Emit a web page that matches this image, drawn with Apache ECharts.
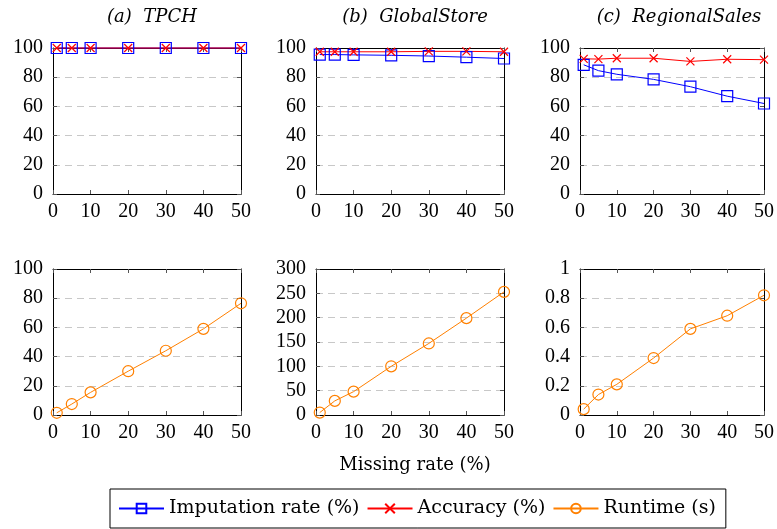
<!DOCTYPE html>
<html>
<head>
<meta charset="utf-8">
<script src="https://cdn.jsdelivr.net/npm/echarts@6/dist/echarts.min.js"></script>
<style>html,body{margin:0;padding:0;background:#fff}#c{width:777px;height:529px}</style>
</head>
<body>
<div id="c"></div>
<script>
const missingRates = [1, 5, 10, 20, 30, 40, 50];
const xTicks = [0, 10, 20, 30, 40, 50];
const panelTitles = ['(a)  TPCH', '(b)  GlobalStore', '(c)  RegionalSales'];
const seriesNames = ['Imputation rate (%)', 'Accuracy (%)', 'Runtime (s)'];

const tpchImputation = [100, 100, 100, 100, 100, 100, 100];
const tpchAccuracy = [100, 100, 100, 100, 100, 100, 100];
const tpchRuntime = [1.5, 7.5, 15.5, 30, 44, 59, 76.5];

const globalImputation = [95.5, 95.5, 95.3, 95, 94.5, 93.7, 92.8];
const globalAccuracy = [97.4, 97.4, 97.4, 97.4, 97.7, 97.7, 97.4];
const globalRuntime = [5, 29, 48, 100, 147, 199, 253];

const regionalImputation = [88.5, 84.5, 82, 78.5, 73.5, 67, 62];
const regionalAccuracy = [92.6, 92.4, 93, 93, 90.8, 92.3, 92];
const regionalRuntime = [0.04, 0.14, 0.21, 0.39, 0.59, 0.68, 0.82];

const runtimeAxes = [
  { max: 100, interval: 20 },
  { max: 300, interval: 50 },
  { max: 1, interval: 0.2 }
];

const BLUE = '#0000ff', RED = '#ff0000', ORANGE = '#ff8000';
const FONT = '"Liberation Serif", "DejaVu Serif", serif';
const WFONT = '"DejaVu Serif", "Liberation Serif", serif';

const colLeft = [53, 316, 580];
const plotW = 188;
const rowTop = [48, 269];
const plotH = 146;

const chart = echarts.init(document.getElementById('c'));

const grids = [], xAxes = [], yAxes = [], series = [];
const tickStyle = { show: true, inside: true, length: 4, lineStyle: { color: '#555', width: 1 } };
const lineAxis = { show: true, onZero: false, lineStyle: { color: '#000', width: 1 } };
const labelStyle = { color: '#000', fontFamily: FONT, fontSize: 20 };

function addGrid(left, top, yMax, yInterval) {
  const gi = grids.length;
  grids.push({ left: left, top: top, width: plotW, height: plotH });
  xAxes.push({ type: 'value', gridIndex: gi, position: 'bottom', min: 0, max: 50, interval: 10,
    axisLine: lineAxis, axisTick: tickStyle, splitLine: { show: false },
    axisLabel: Object.assign({ margin: 8, showMaxLabel: true, showMinLabel: true }, labelStyle) });
  xAxes.push({ type: 'value', gridIndex: gi, position: 'top', min: 0, max: 50, interval: 10,
    axisLine: lineAxis, axisTick: tickStyle, splitLine: { show: false }, axisLabel: { show: false } });
  yAxes.push({ type: 'value', gridIndex: gi, position: 'left', min: 0, max: yMax, interval: yInterval,
    axisLine: lineAxis, axisTick: tickStyle,
    splitLine: { show: true, lineStyle: { color: '#c8c8c8', width: 1, type: [7, 5] } },
    axisLabel: Object.assign({ margin: 10 }, labelStyle) });
  yAxes.push({ type: 'value', gridIndex: gi, position: 'right', min: 0, max: yMax, interval: yInterval,
    axisLine: lineAxis, axisTick: tickStyle, splitLine: { show: false }, axisLabel: { show: false } });
  return gi;
}

function pairs(vals) { return missingRates.map((x, i) => [x, vals[i]]); }

const crossPath = 'path://M0,0L10,10M10,0L0,10';

function addSeries(gi, kind, vals) {
  const common = { type: 'line', xAxisIndex: gi * 2, yAxisIndex: gi * 2, data: pairs(vals),
    clip: false, animation: false, showAllSymbol: true };
  if (kind === 0) {
    series.push(Object.assign(common, { name: seriesNames[0], symbol: 'rect', symbolSize: 11,
      lineStyle: { color: BLUE, width: 1 },
      itemStyle: { color: 'rgba(255,255,255,0)', borderColor: BLUE, borderWidth: 1.2 } }));
  } else if (kind === 1) {
    series.push(Object.assign(common, { name: seriesNames[1], symbol: crossPath, symbolSize: 8,
      lineStyle: { color: RED, width: 1 },
      itemStyle: { color: 'rgba(255,255,255,0)', borderColor: RED, borderWidth: 1.2 } }));
  } else {
    series.push(Object.assign(common, { name: seriesNames[2], symbol: 'circle', symbolSize: 11,
      lineStyle: { color: ORANGE, width: 1 },
      itemStyle: { color: 'rgba(255,255,255,0)', borderColor: ORANGE, borderWidth: 1.2 } }));
  }
}

const topData = [
  [tpchImputation, tpchAccuracy],
  [globalImputation, globalAccuracy],
  [regionalImputation, regionalAccuracy]
];
const bottomData = [tpchRuntime, globalRuntime, regionalRuntime];

for (let c = 0; c < 3; c++) {
  const gi = addGrid(colLeft[c], rowTop[0], 100, 20);
  addSeries(gi, 0, topData[c][0]);
  addSeries(gi, 1, topData[c][1]);
}
for (let c = 0; c < 3; c++) {
  const gi = addGrid(colLeft[c], rowTop[1], runtimeAxes[c].max, runtimeAxes[c].interval);
  addSeries(gi, 2, bottomData[c]);
}

const titles = panelTitles.map((t, c) => ({
  text: t, left: colLeft[c] + plotW / 2, top: 3, textAlign: 'center',
  textStyle: { fontFamily: WFONT, fontStyle: 'italic', fontWeight: 'normal', fontSize: 18, color: '#000' }
}));
titles.push({
  text: 'Missing rate (%)', left: colLeft[1] + plotW / 2, top: 451, textAlign: 'center',
  textStyle: { fontFamily: WFONT, fontWeight: 'normal', fontSize: 18, color: '#000' }
});

chart.setOption({
  backgroundColor: '#fff',
  animation: false,
  title: titles,
  grid: grids,
  xAxis: xAxes,
  yAxis: yAxes,
  legend: {
    data: seriesNames,
    left: 110, top: 489,
    orient: 'horizontal',
    borderColor: '#000', borderWidth: 1, borderRadius: 0,
    padding: [10, 10, 10, 8],
    itemGap: 7, itemWidth: 45, itemHeight: 12,
    selectedMode: false,
    textStyle: { fontFamily: WFONT, fontSize: 19, color: '#000' }
  },
  series: series
});
</script>
</body>
</html>
